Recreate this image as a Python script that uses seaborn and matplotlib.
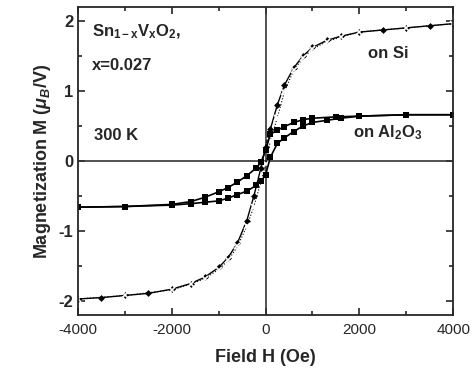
import numpy as np
import matplotlib
matplotlib.use("Agg")
import matplotlib.pyplot as plt
from matplotlib.ticker import MultipleLocator
import seaborn as sns

# on Si: field sweeping down, then up
si_down_h = [4000, 3500, 3000, 2500, 2000, 1600, 1300, 1000, 800, 600, 400, 250, 100, 0,
             -100, -250, -400, -600, -800, -1000, -1300, -1600, -2000, -2500, -3000, -3500, -4000]
si_down_m = [1.96, 1.93, 1.90, 1.87, 1.84, 1.78, 1.72, 1.62, 1.50, 1.33, 1.08, 0.80, 0.45, 0.20,
             -0.10, -0.50, -0.85, -1.17, -1.38, -1.52, -1.66, -1.75, -1.83, -1.89, -1.92, -1.95, -1.97]
si_up_h = [-4000, -3000, -2000, -1600, -1300, -1000, -800, -600, -400, -250, -100, 0,
           100, 250, 400, 600, 800, 1000, 1300, 1600, 2000, 3000, 4000]
si_up_m = [-1.97, -1.92, -1.84, -1.76, -1.68, -1.55, -1.42, -1.22, -0.93, -0.65, -0.30, -0.05,
           0.28, 0.62, 0.98, 1.30, 1.47, 1.60, 1.70, 1.77, 1.84, 1.90, 1.96]

# on Al2O3
al_down_h = [4000, 3000, 2000, 1500, 1000, 800, 600, 400, 250, 100, 0,
             -100, -200, -400, -600, -800, -1000, -1300, -1600, -2000, -3000, -4000]
al_down_m = [0.66, 0.66, 0.64, 0.63, 0.61, 0.59, 0.55, 0.49, 0.44, 0.38, 0.15,
             -0.02, -0.10, -0.21, -0.30, -0.38, -0.44, -0.52, -0.58, -0.62, -0.65, -0.66]
al_up_h = [-4000, -3000, -2000, -1600, -1300, -1000, -800, -600, -400, -200, -100, 0,
           100, 250, 400, 600, 800, 1000, 1300, 1600, 2000, 3000, 4000]
al_up_m = [-0.66, -0.65, -0.63, -0.61, -0.59, -0.57, -0.53, -0.48, -0.43, -0.35, -0.29, -0.20,
           0.05, 0.25, 0.33, 0.42, 0.50, 0.55, 0.58, 0.61, 0.64, 0.66, 0.66]

sns.set_style("ticks")
plt.rcParams['font.family'] = ['Liberation Sans', 'DejaVu Sans']
plt.rcParams['axes.unicode_minus'] = False
plt.rcParams['mathtext.fontset'] = 'custom'
plt.rcParams['mathtext.rm'] = 'Liberation Sans:bold'
plt.rcParams['mathtext.it'] = 'Liberation Sans:bold:italic'
plt.rcParams['mathtext.bf'] = 'Liberation Sans:bold'

fig = plt.figure(figsize=(4.73, 3.81), dpi=100)
ax = fig.add_axes([0.165, 0.173, 0.793, 0.809])

ax.axhline(0, color="#333333", lw=1.2, zorder=1)
ax.axvline(0, color="#333333", lw=1.2, zorder=1)

sns.lineplot(x=si_down_h, y=si_down_m, sort=False, ax=ax, color="black", lw=1,
             marker="D", markersize=3.5, markeredgewidth=0)
sns.lineplot(x=si_up_h, y=si_up_m, sort=False, ax=ax, color="black", lw=0.8, ls=":",
             marker="x", markersize=4, markeredgewidth=1.2)
sns.lineplot(x=al_down_h, y=al_down_m, sort=False, ax=ax, color="black", lw=1.2,
             marker="s", markersize=4, markeredgewidth=0)
sns.lineplot(x=al_up_h, y=al_up_m, sort=False, ax=ax, color="black", lw=1.2,
             marker="s", markersize=4, markeredgewidth=0)

ax.set_xlim(-4000, 4000)
ax.set_ylim(-2.2, 2.2)
ax.xaxis.set_major_locator(MultipleLocator(2000))
ax.xaxis.set_minor_locator(MultipleLocator(1000))
ax.yaxis.set_major_locator(MultipleLocator(1))
ax.yaxis.set_minor_locator(MultipleLocator(0.5))
ax.tick_params(which="both", direction="in", top=True, right=True, width=1.2)
ax.tick_params(which="major", length=5)
ax.tick_params(which="minor", length=3)
ax.tick_params(axis="x", labelsize=11, pad=6)
ax.tick_params(axis="y", labelsize=12)
for lab in ax.get_yticklabels():
    lab.set_fontweight("bold")
for s in ax.spines.values():
    s.set_linewidth(1.3)

ax.set_xlabel("Field H (Oe)", fontsize=13, fontweight="bold", labelpad=8)
ax.set_ylabel(r"Magnetization M ($\mathit{\mu}_B$/V)", fontsize=13, fontweight="bold", labelpad=4)

kw = dict(fontsize=12, fontweight="bold", va="center", ha="left")
ax.text(-3700, 1.84, r"Sn$_{\mathrm{1-x}}$V$_{\mathrm{x}}$O$_{\mathrm{2}}$,", **kw)
ax.text(-3700, 1.36, "x=0.027", **kw)
ax.text(-3650, 0.36, "300 K", **kw)
ax.text(2180, 1.53, "on Si", **kw)
ax.text(1870, 0.41, r"on Al$_{\mathrm{2}}$O$_{\mathrm{3}}$", **kw)

fig.savefig("out.png", dpi=100)
